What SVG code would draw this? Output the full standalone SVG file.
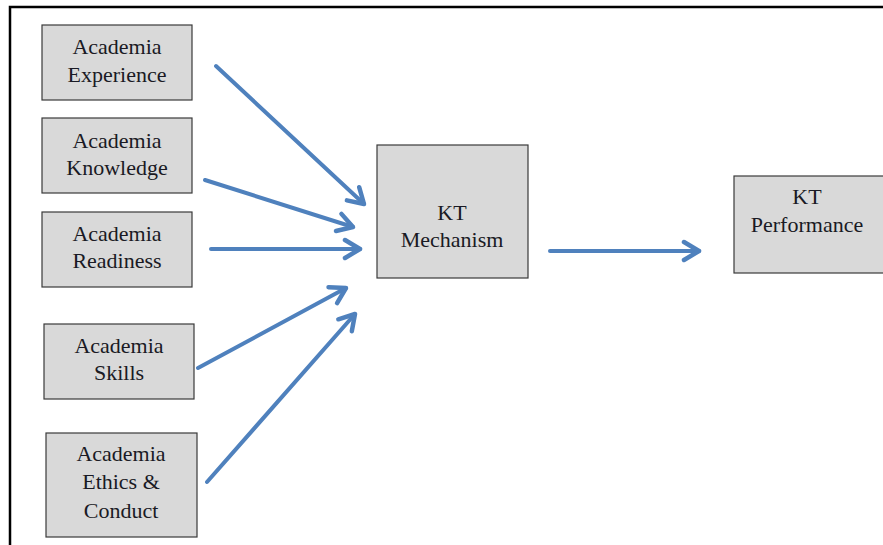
<svg xmlns="http://www.w3.org/2000/svg" width="883" height="545" viewBox="0 0 883 545">
<style>
.box{fill:#d9d9d9;stroke:#3a3a3a;stroke-width:1.2}
.t{font-family:'Liberation Serif','DejaVu Serif',serif;font-size:22px;fill:#1a1a24;text-anchor:middle}
.c{stroke:#4f81bd;stroke-width:4;fill:none;stroke-linecap:round;marker-end:url(#ah)}
</style>
<defs>
<marker id="ah" markerUnits="userSpaceOnUse" markerWidth="30" markerHeight="30" viewBox="-20 -15 30 30" refX="0" refY="0" orient="auto">
<path d="M-15,-9 L0,0 L-15,9" fill="none" stroke="#4f81bd" stroke-width="4.5" stroke-linecap="round" stroke-linejoin="round"/>
</marker>
</defs>
<rect width="883" height="545" fill="#fff"/>
<path d="M10,545 V7 H883" fill="none" stroke="#000" stroke-width="2.5"/>
<g id="n-experience"><rect class="box" x="42" y="25" width="150" height="75"/><text class="t" x="117" y="54">Academia</text><text class="t" x="117" y="82">Experience</text></g>
<g id="n-knowledge"><rect class="box" x="42" y="118" width="150" height="75"/><text class="t" x="117" y="148">Academia</text><text class="t" x="117" y="175">Knowledge</text></g>
<g id="n-readiness"><rect class="box" x="42" y="212" width="150" height="75"/><text class="t" x="117" y="241">Academia</text><text class="t" x="117" y="268">Readiness</text></g>
<g id="n-skills"><rect class="box" x="44" y="324" width="150" height="75"/><text class="t" x="119" y="353">Academia</text><text class="t" x="119" y="380">Skills</text></g>
<g id="n-ethics"><rect class="box" x="46" y="433" width="151" height="104"/><text class="t" x="121" y="461">Academia</text><text class="t" x="121" y="489">Ethics &amp;</text><text class="t" x="121" y="518">Conduct</text></g>
<g id="n-mechanism"><rect class="box" x="377" y="145" width="151" height="133"/><text class="t" x="452" y="220">KT</text><text class="t" x="452" y="247">Mechanism</text></g>
<g id="n-performance"><rect class="box" x="734" y="176" width="152" height="97"/><text class="t" x="807" y="204">KT</text><text class="t" x="807" y="232">Performance</text></g>
<g id="connectors">
<line class="c" x1="216" y1="66" x2="364" y2="204"/>
<line class="c" x1="205" y1="180" x2="353" y2="227"/>
<line class="c" x1="211" y1="249" x2="360" y2="249"/>
<line class="c" x1="198" y1="368" x2="346" y2="288"/>
<line class="c" x1="207" y1="482" x2="355" y2="314"/>
<line class="c" x1="550" y1="251" x2="699" y2="251"/>
</g>
</svg>
